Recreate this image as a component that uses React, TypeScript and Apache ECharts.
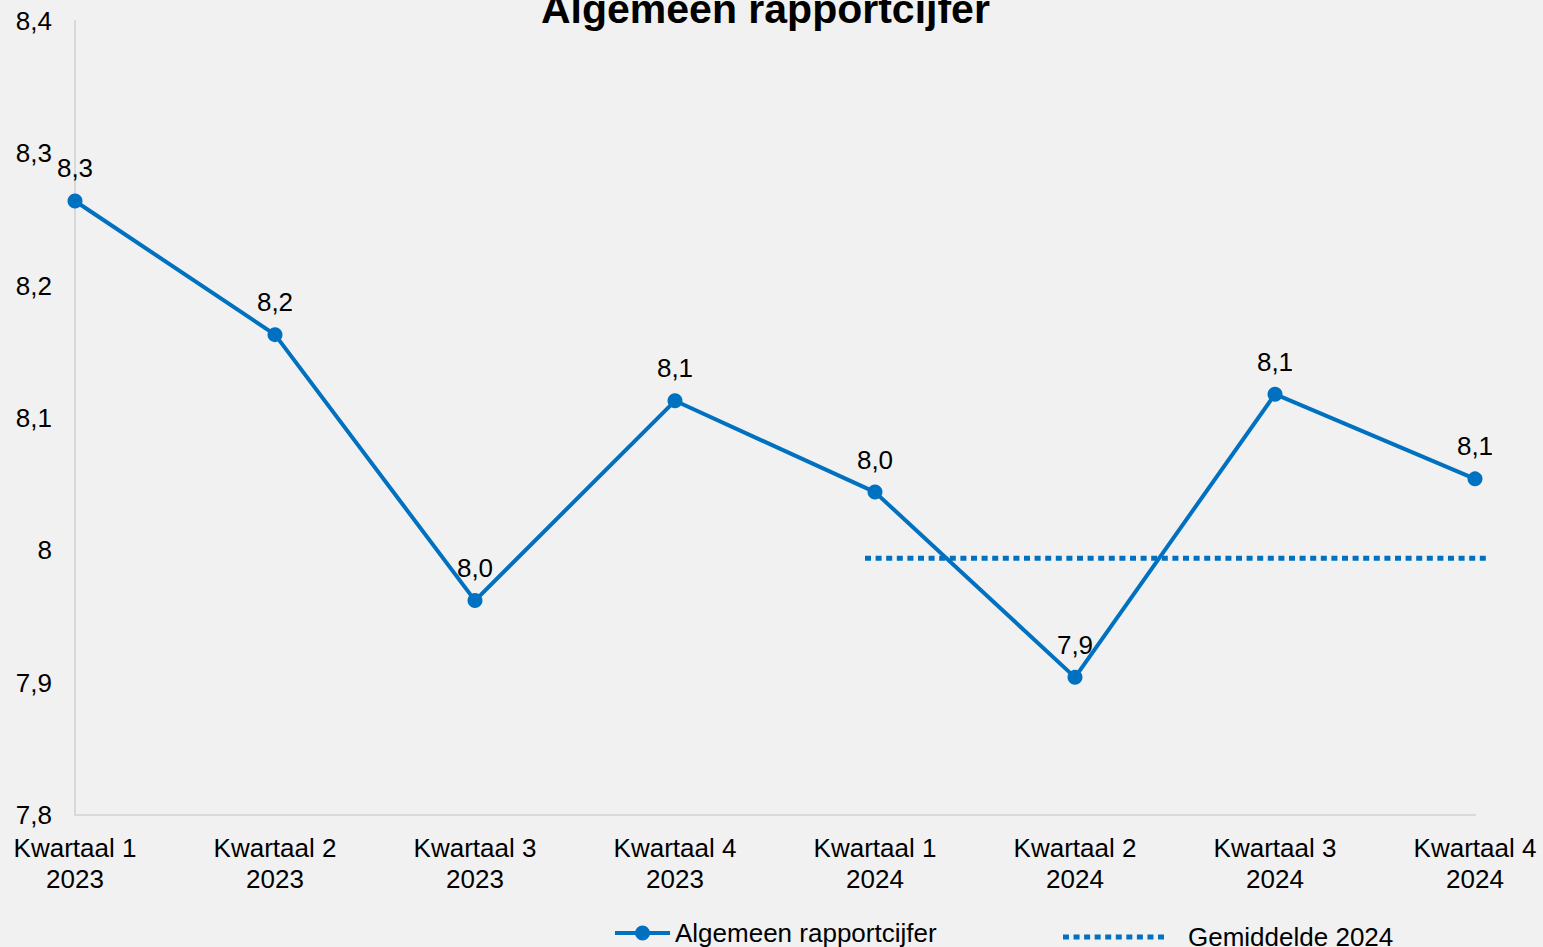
import React, { useEffect, useRef } from "react";
import * as echarts from "echarts";

const categories = [
  "Kwartaal 1\n2023",
  "Kwartaal 2\n2023",
  "Kwartaal 3\n2023",
  "Kwartaal 4\n2023",
  "Kwartaal 1\n2024",
  "Kwartaal 2\n2024",
  "Kwartaal 3\n2024",
  "Kwartaal 4\n2024",
];
const rapportcijfer = [8.264, 8.163, 7.962, 8.113, 8.044, 7.904, 8.118, 8.054];
const gemiddelde2024 = 7.994;
const yTicks = { min: 7.8, max: 8.4, interval: 0.1 };

const FONT = "Liberation Sans, Arial, sans-serif";
const BLUE = "#0070C0";

// legend icons
const lineMarkerIcon =
  "path://M0,5.5 H20.5 V9.5 H0 Z M34.5,5.5 H55 V9.5 H34.5 Z M20,7.5 A7.5,7.5 0 1 1 35,7.5 A7.5,7.5 0 1 1 20,7.5 Z";
const dottedIcon = (() => {
  let d = "path://";
  for (let i = 0; i < 10; i++) {
    const x = i * 10.6;
    d += `M${x.toFixed(1)},0 H${(x + 6).toFixed(1)} V5 H${x.toFixed(1)} Z `;
  }
  return d;
})();

export default function App() {
  const ref = useRef<HTMLDivElement>(null);
  useEffect(() => {
    if (!ref.current) return;
    const chart = echarts.init(ref.current, undefined, { renderer: "svg" });
    const fmt = (v: number) => String(Math.round(v * 10) / 10).replace(".", ",");
    chart.setOption({
      animation: false,
      backgroundColor: "#f1f1f1",
      textStyle: { fontFamily: FONT, color: "#000" },
      title: {
        text: "Algemeen rapportcijfer",
        left: 536,
        top: -17,
        textStyle: { fontFamily: FONT, fontSize: 41, fontWeight: "bold", color: "#000" },
      },
      grid: [
        { left: 75, right: 68, top: 21, bottom: 132, containLabel: false },
        // the average line spans from just before Kwartaal 1 2024 to just past Kwartaal 4 2024
        { left: 865, right: 57, top: 21, bottom: 132, containLabel: false },
      ],
      legend: [
        {
          data: [{ name: "Algemeen rapportcijfer", icon: lineMarkerIcon }],
          left: 610,
          top: 915,
          itemWidth: 55,
          itemHeight: 15,
          itemGap: 0,
          textStyle: { fontFamily: FONT, fontSize: 26, color: "#000", padding: [0, 0, 0, 0] },
        },
        {
          data: [{ name: "Gemiddelde 2024", icon: dottedIcon }],
          left: 1058,
          top: 919,
          itemWidth: 101,
          itemHeight: 5,
          textStyle: { fontFamily: FONT, fontSize: 26, color: "#000", padding: [0, 0, 0, 19] },
        },
      ],
      xAxis: [
        {
          type: "category",
          gridIndex: 0,
          data: categories,
          boundaryGap: false,
          axisLine: { show: true, lineStyle: { color: "#d9d9d9", width: 2 } },
          axisTick: { show: false },
          axisLabel: {
            fontFamily: FONT,
            fontSize: 26,
            color: "#000",
            lineHeight: 31,
            margin: 17,
            interval: 0,
          },
          splitLine: { show: false },
        },
        {
          type: "value",
          gridIndex: 1,
          min: 0,
          max: 1,
          show: false,
          splitLine: { show: false },
        },
      ],
      yAxis: [
        {
          type: "value",
          gridIndex: 0,
          ...yTicks,
          axisLine: { show: true, lineStyle: { color: "#d9d9d9", width: 2 } },
          axisTick: { show: false },
          splitLine: { show: false },
          axisLabel: {
            fontFamily: FONT,
            fontSize: 26,
            color: "#000",
            margin: 23,
            formatter: fmt,
          },
        },
        {
          type: "value",
          gridIndex: 1,
          ...yTicks,
          show: false,
          splitLine: { show: false },
        },
      ],
      series: [
        {
          name: "Gemiddelde 2024",
          type: "line",
          xAxisIndex: 1,
          yAxisIndex: 1,
          data: [
            [0, gemiddelde2024],
            [1, gemiddelde2024],
          ],
          symbol: "none",
          lineStyle: { color: BLUE, width: 5, type: [6, 4.6], cap: "butt" },
          itemStyle: { color: BLUE },
          z: 2,
        },
        {
          name: "Algemeen rapportcijfer",
          type: "line",
          xAxisIndex: 0,
          yAxisIndex: 0,
          data: rapportcijfer,
          symbol: "circle",
          symbolSize: 15,
          lineStyle: { color: BLUE, width: 4 },
          itemStyle: { color: BLUE },
          label: {
            show: true,
            position: "top",
            distance: 12,
            fontFamily: FONT,
            fontSize: 26,
            color: "#000",
            formatter: (p: any) => (p.value as number).toFixed(1).replace(".", ","),
          },
          z: 3,
        },
      ],
    });
    return () => chart.dispose();
  }, []);
  return <div ref={ref} style={{ width: 1543, height: 947, position: "absolute", left: 0, top: 0 }} />;
}
